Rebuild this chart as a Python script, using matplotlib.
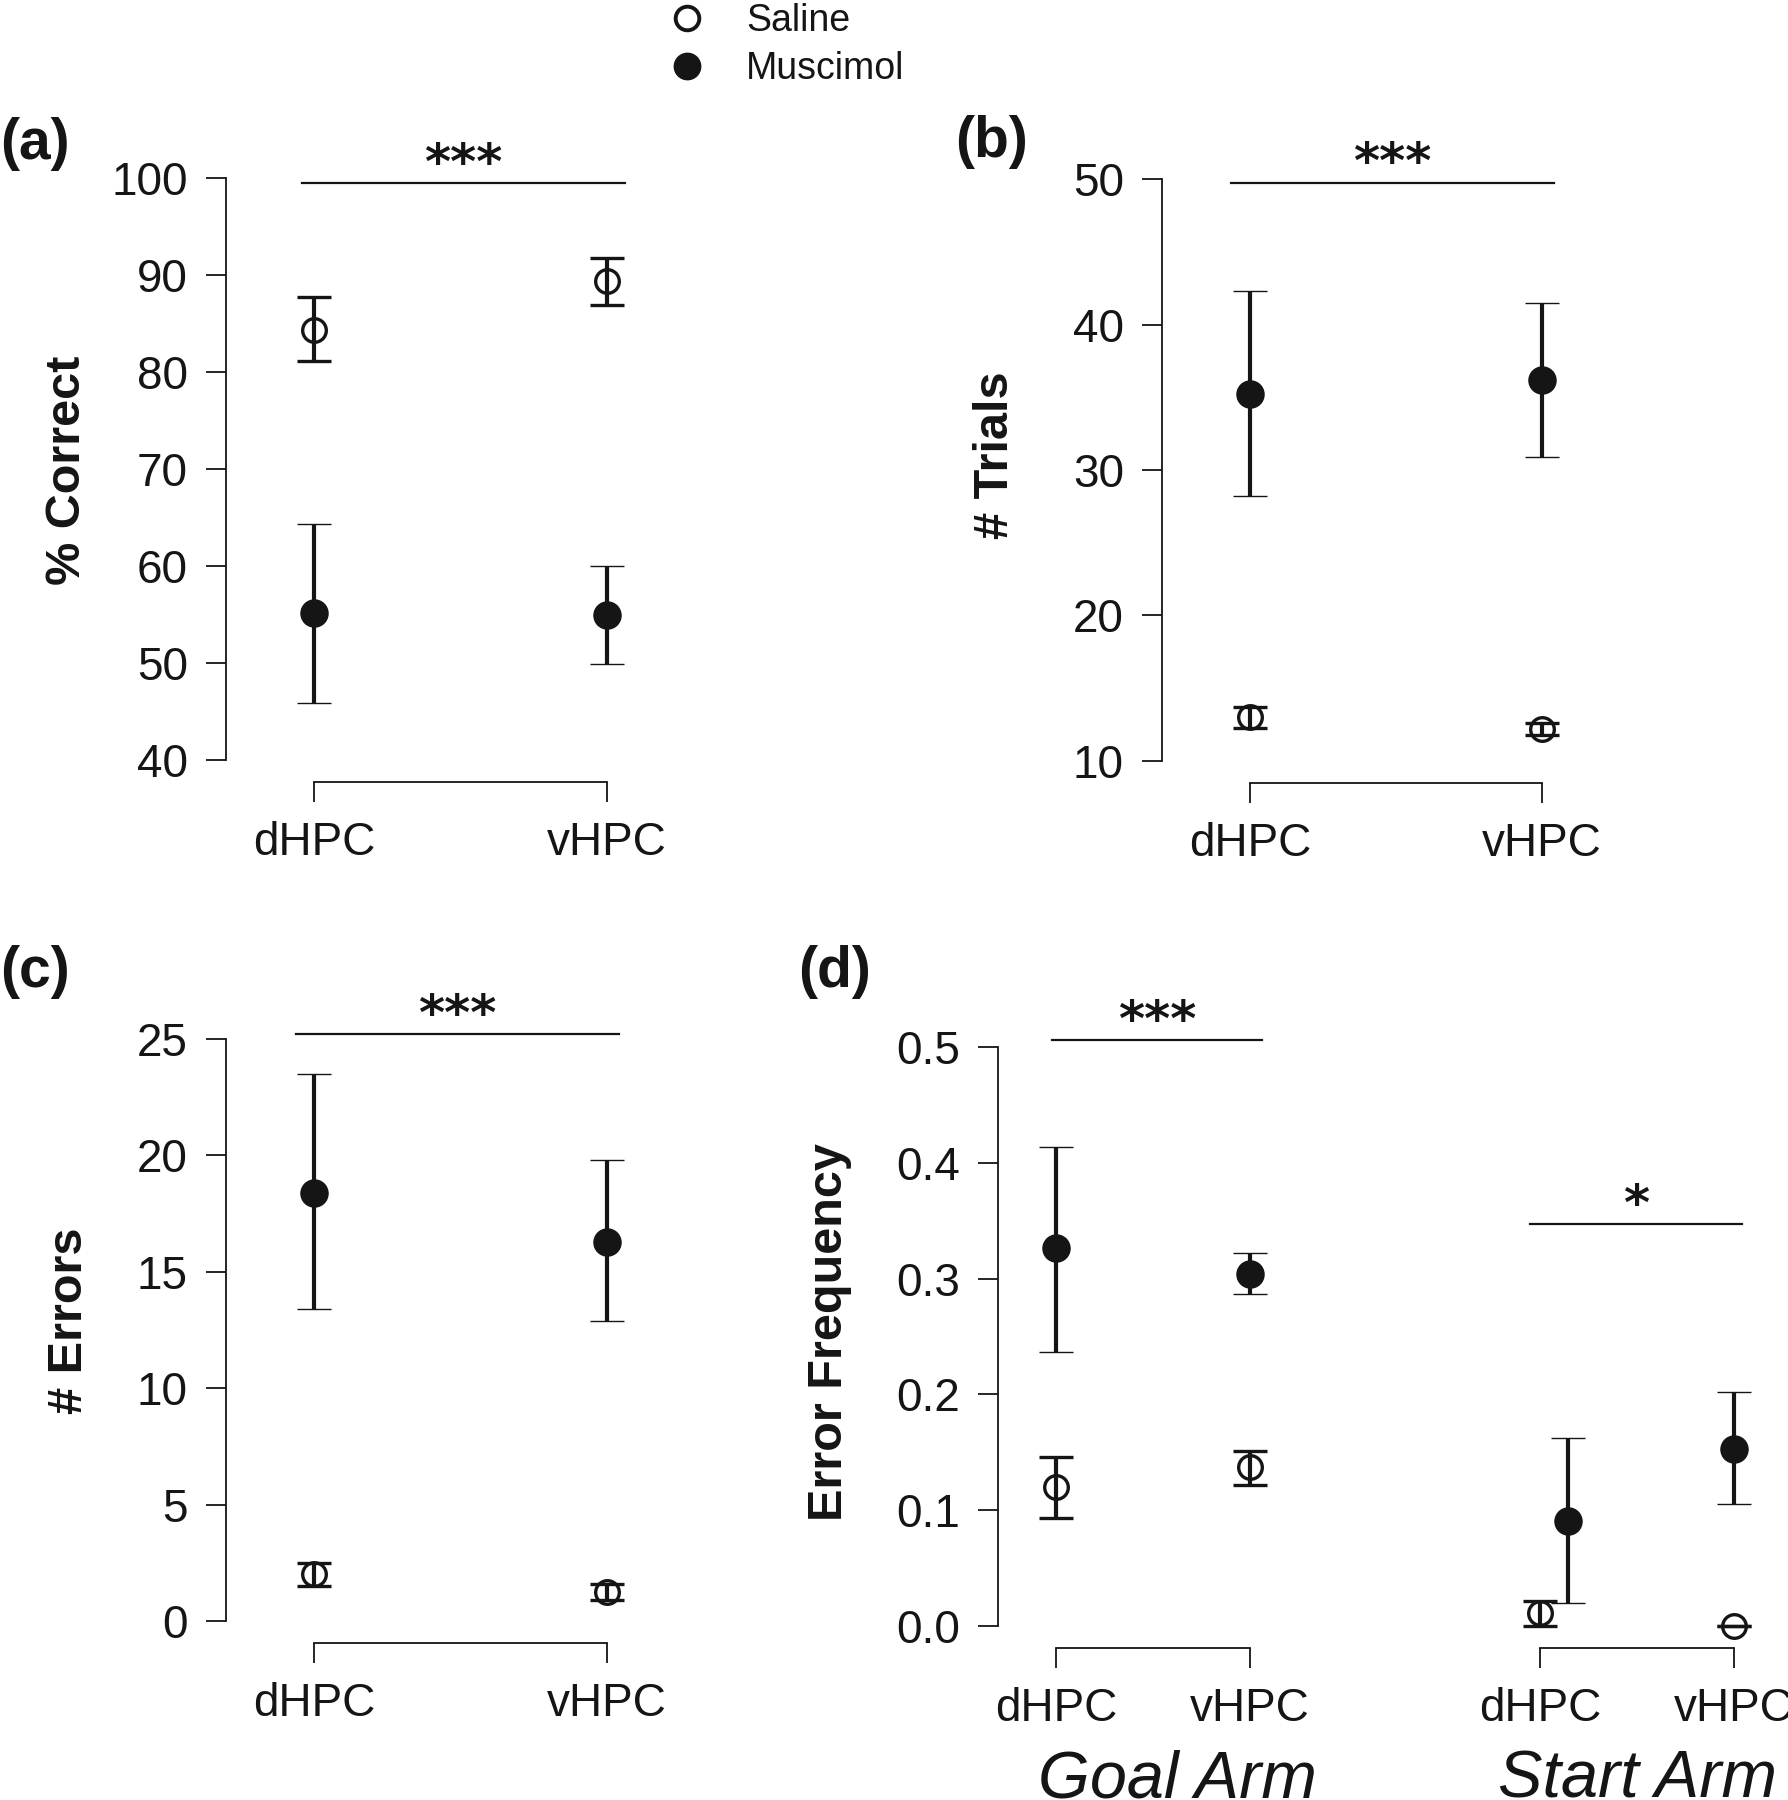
import numpy as np
import matplotlib
matplotlib.use("Agg")
import matplotlib.pyplot as plt
from matplotlib.lines import Line2D

plt.rcParams["font.family"] = ["Liberation Sans", "DejaVu Sans"]

W, H, DPI = 1788, 1800, 100
PX = 72 / DPI          # points per pixel
INK = "#151515"

regions = ["dHPC", "vHPC"]
treatments = ["Saline", "Muscimol"]

# (a) % correct: mean, lower and upper end of error bar
correct_saline = [84.3, 89.4]
correct_saline_lo = [81.1, 86.9]
correct_saline_hi = [87.7, 91.8]
correct_muscimol = [55.2, 54.9]
correct_muscimol_lo = [45.9, 49.9]
correct_muscimol_hi = [64.3, 60.0]

# (b) number of trials
trials_saline = [13.0, 12.2]
trials_saline_lo = [12.3, 11.8]
trials_saline_hi = [13.7, 12.6]
trials_muscimol = [35.2, 36.2]
trials_muscimol_lo = [28.2, 30.9]
trials_muscimol_hi = [42.3, 41.5]

# (c) number of errors
errors_saline = [2.0, 1.25]
errors_saline_lo = [1.5, 0.9]
errors_saline_hi = [2.5, 1.6]
errors_muscimol = [18.4, 16.3]
errors_muscimol_lo = [13.4, 12.9]
errors_muscimol_hi = [23.5, 19.8]

# (d) error frequency, goal arm and start arm
goal_saline = [0.120, 0.137]
goal_saline_lo = [0.093, 0.122]
goal_saline_hi = [0.146, 0.151]
goal_muscimol = [0.326, 0.304]
goal_muscimol_lo = [0.237, 0.287]
goal_muscimol_hi = [0.414, 0.322]
start_saline = [0.0115, 0.0]
start_saline_lo = [0.0, 0.0]
start_saline_hi = [0.022, 0.0]
start_muscimol = [0.091, 0.153]
start_muscimol_lo = [0.020, 0.105]
start_muscimol_hi = [0.162, 0.202]

freq_ticks = [0.0, 0.1, 0.2, 0.3, 0.4, 0.5]
freq_tick_labels = ["0.0", "0.1", "0.2", "0.3", "0.4", "0.5"]

fig = plt.figure(figsize=(W / DPI, H / DPI), dpi=DPI)


def px_rect(left, top, right, bottom):
    return [left / W, 1 - bottom / H, (right - left) / W, (bottom - top) / H]


def make_axes(left, x0, dx, top, bottom, right, ylim, yaxis=True):
    ax = fig.add_axes(px_rect(left, top, right, bottom))
    ax.patch.set_visible(False)
    ax.set_xlim((left - x0) / dx, (right - x0) / dx)
    ax.set_ylim(*ylim)
    ax.spines["top"].set_visible(False)
    ax.spines["right"].set_visible(False)
    ax.spines["bottom"].set_position(("outward", 22 * PX))
    ax.spines["bottom"].set_bounds(0, 1)
    ax.spines["left"].set_bounds(*ylim)
    for s in ("left", "bottom"):
        ax.spines[s].set_linewidth(1.3)
        ax.spines[s].set_color(INK)
    ax.tick_params(length=20 * PX, width=1.3, labelsize=33, color=INK, labelcolor=INK)
    ax.tick_params(axis="y", pad=13)
    ax.tick_params(axis="x", pad=14)
    ax.set_xticks([0, 1], regions)
    if not yaxis:
        ax.spines["left"].set_visible(False)
        ax.set_yticks([])
    return ax


def draw_points(ax, xs, mean, lo, hi, filled):
    err = [np.subtract(mean, lo), np.subtract(hi, mean)]
    if filled:
        mk = dict(markersize=19.5, mfc=INK, mec=INK, mew=1)
    else:
        mk = dict(markersize=17, mfc="none", mec=INK, mew=2.4)
    eb = ax.errorbar(xs, mean, yerr=err, fmt="o", color=INK, ecolor=INK,
                     elinewidth=3.0, capsize=12, capthick=3.0, zorder=3, **mk)
    eb[0].set_clip_on(False)
    for c in eb[1]:
        c.set_clip_on(False)
    for b in eb[2]:
        b.set_clip_on(False)


def sig_bar(ax, x1, x2, y, stars):
    ax.plot([x1, x2], [y, y], color=INK, lw=1.6, clip_on=False)
    ax.annotate(stars, xy=((x1 + x2) / 2, y), xytext=(0, 3), textcoords="offset points",
                ha="center", va="baseline", fontsize=36, fontweight="bold",
                family="DejaVu Sans", color=INK, annotation_clip=False)


pos = [0, 1]

# (a)
ax_a = make_axes(226, 314, 293, 178, 760, 720, (40, 100))
ax_a.set_yticks(np.arange(40, 101, 10))
draw_points(ax_a, pos, correct_saline, correct_saline_lo, correct_saline_hi, False)
draw_points(ax_a, pos, correct_muscimol, correct_muscimol_lo, correct_muscimol_hi, True)
sig_bar(ax_a, -0.04, 1.06, 99.5, "***")

# (b)
ax_b = make_axes(1162, 1250, 292, 179, 761, 1700, (10, 50))
ax_b.set_yticks(np.arange(10, 51, 10))
draw_points(ax_b, pos, trials_saline, trials_saline_lo, trials_saline_hi, False)
draw_points(ax_b, pos, trials_muscimol, trials_muscimol_lo, trials_muscimol_hi, True)
sig_bar(ax_b, -0.065, 1.04, 49.75, "***")

# (c)
ax_c = make_axes(226, 314, 293, 1039, 1621, 720, (0, 25))
ax_c.set_yticks(np.arange(0, 26, 5))
draw_points(ax_c, pos, errors_saline, errors_saline_lo, errors_saline_hi, False)
draw_points(ax_c, pos, errors_muscimol, errors_muscimol_lo, errors_muscimol_hi, True)
sig_bar(ax_c, -0.06, 1.04, 25.2, "***")

# (d) goal arm and start arm
ax_g = make_axes(998, 1056, 194, 1047, 1626, 1380, (0, 0.5))
ax_g.set_yticks(freq_ticks, freq_tick_labels)
draw_points(ax_g, pos, goal_saline, goal_saline_lo, goal_saline_hi, False)
draw_points(ax_g, pos, goal_muscimol, goal_muscimol_lo, goal_muscimol_hi, True)
sig_bar(ax_g, -0.02, 1.06, 0.506, "***")

ax_s = make_axes(1380, 1540, 194, 1047, 1626, 1788, (0, 0.5), yaxis=False)
muscimol_shift = [0.145, 0.0]
draw_points(ax_s, pos, start_saline, start_saline_lo, start_saline_hi, False)
draw_points(ax_s, np.add(pos, muscimol_shift), start_muscimol, start_muscimol_lo,
            start_muscimol_hi, True)
sig_bar(ax_s, -0.05, 1.04, 0.347, "*")


def fig_text(x, y, s, **kw):
    fig.text(x / W, 1 - y / H, s, color=INK, **kw)


# axis titles
fig_text(68, 470, "% Correct", rotation=90, ha="center", va="center", fontsize=35, fontweight="bold")
fig_text(996, 455, "# Trials", rotation=90, ha="center", va="center", fontsize=35, fontweight="bold")
fig_text(69, 1321, "# Errors", rotation=90, ha="center", va="center", fontsize=35, fontweight="bold")
fig_text(829, 1332, "Error Frequency", rotation=90, ha="center", va="center", fontsize=35, fontweight="bold")

# panel letters
fig_text(0, 144, "(a)", ha="left", va="center", fontsize=41, fontweight="bold")
fig_text(955, 142, "(b)", ha="left", va="center", fontsize=41, fontweight="bold")
fig_text(0, 972, "(c)", ha="left", va="center", fontsize=41, fontweight="bold")
fig_text(798, 972, "(d)", ha="left", va="center", fontsize=41, fontweight="bold")

# group names under panel (d)
fig_text(1177, 1798, "Goal Arm", ha="center", va="baseline", fontsize=48, style="italic")
fig_text(1638, 1798, "Start Arm", ha="center", va="baseline", fontsize=48, style="italic")

# legend
handles = [
    Line2D([], [], ls="none", marker="o", markersize=17, mfc="none", mec=INK, mew=2.8),
    Line2D([], [], ls="none", marker="o", markersize=19, mfc=INK, mec=INK, mew=1),
]
fig.legend(handles, treatments, loc="upper left", bbox_to_anchor=(668 / W, 1 - 3 / H),
           frameon=False, fontsize=27, handlelength=1.0, handletextpad=1.08,
           labelspacing=0.33, borderpad=0, borderaxespad=0, labelcolor=INK)

fig.savefig("out.png", dpi=DPI)
